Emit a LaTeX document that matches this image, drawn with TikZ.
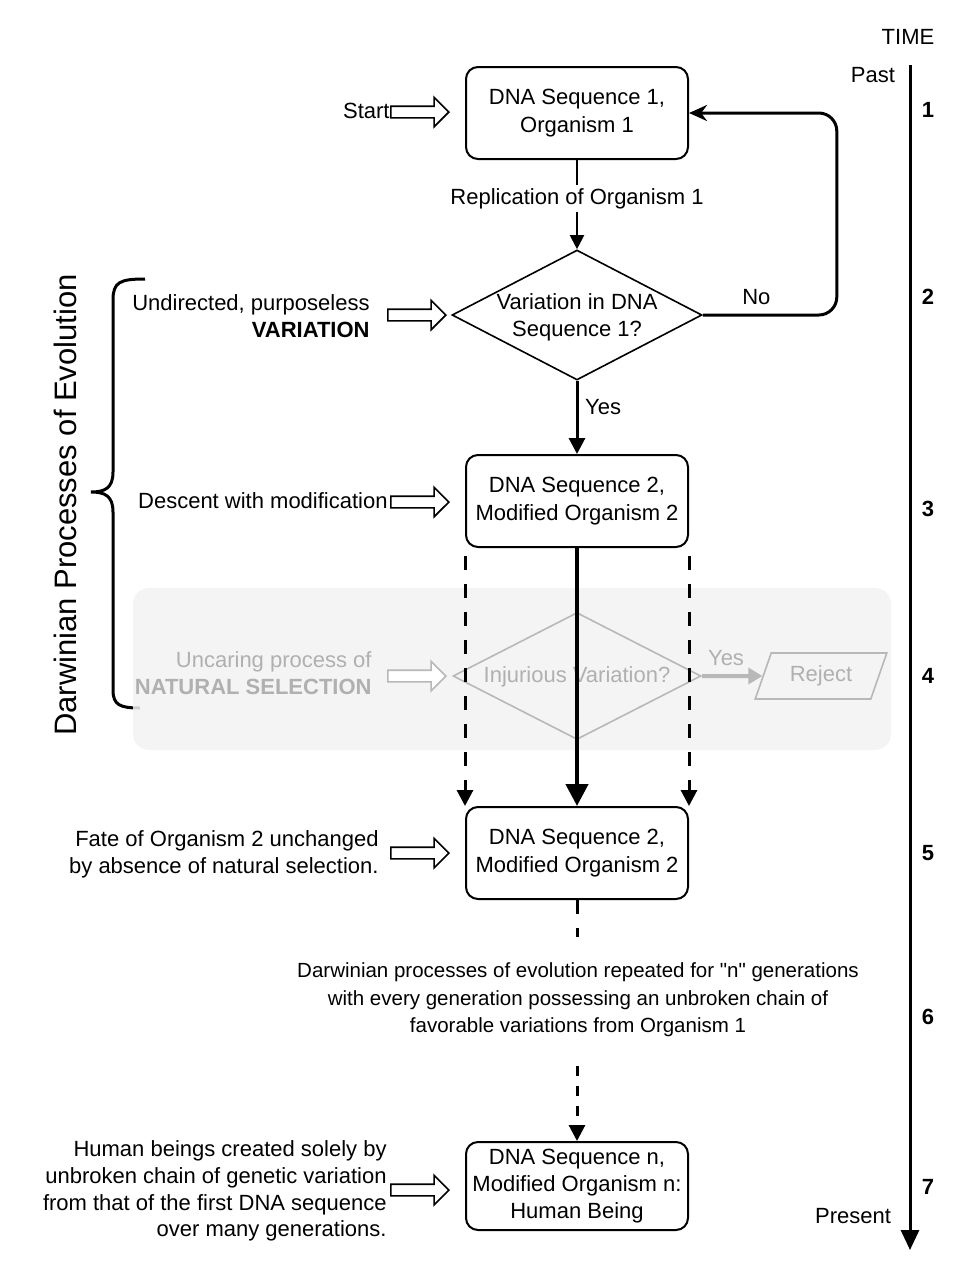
\documentclass[tikz,border=0pt]{standalone}
\usepackage{fontspec}
\setmainfont{Liberation Sans}
\newfontfamily\qfont{Liberation Sans}
\usetikzlibrary{arrows.meta,shapes.geometric,shapes.arrows}
\definecolor{lgray}{HTML}{B8B8B8}
\definecolor{tgray}{HTML}{B0B0B0}
\definecolor{boxgray}{HTML}{F3F3F3}
\begin{document}
\begin{tikzpicture}[x=0.5pt,y=-0.5pt,
  font=\fontsize{11}{13.6}\selectfont,
  box/.style={draw, line width=1pt, rounded corners=6pt, minimum width=111pt, minimum height=46pt, align=center, inner sep=0pt},
  dia/.style={draw, diamond, line width=0.8pt, minimum width=125pt, minimum height=65pt, inner sep=0pt, aspect=1.92},
  harrow/.style={single arrow, draw, line width=0.8pt, minimum height=29pt, inner sep=2.5pt, single arrow head extend=4.5pt, fill=white, anchor=tip},
  side/.style={align=right, anchor=east, inner sep=0pt},
  tarr/.style={-{Triangle[length=7pt,width=7pt]}},
  dsh/.style={line width=1.5pt, dash pattern=on 7pt off 7pt},
  num/.style={font=\fontsize{11}{13}\selectfont\bfseries},
]
\useasboundingbox (0,0) rectangle (967,1286);
\fill[white] (0,0) rectangle (967,1286);

% brace and title
\draw[line width=1.5pt] (145,279) .. controls (120,279) and (113,282) .. (113,300) -- (113,472)
  .. controls (113,488) and (105,492) .. (91,492) .. controls (105,492) and (113,496) .. (113,512)
  -- (113,690) .. controls (113,705) and (120,708) .. (140,708);
\node[rotate=90, font=\fontsize{15.5}{18}\selectfont] (title) at (65,505) {Darwinian Processes of Evolution};

% grey natural selection band
\fill[boxgray, fill opacity=0.85, rounded corners=8pt] (133,588) rectangle (891,750);

% nodes
\node[box] (b1) at (577,113) {DNA Sequence 1,\\Organism 1};
\node[dia] (d1) at (577,315) {};
\node[align=center] (d1t) at (577,317) {Variation in DNA\\Sequence 1?};
\node[box] (b2) at (577,501) {DNA Sequence 2,\\Modified Organism 2};
\node[dia, draw=lgray, minimum width=124pt, minimum height=63.5pt] (d2) at (577,676) {};
\node[text=tgray] (d2t) at (577,677) {Injurious Variation?};
\node[trapezium, trapezium left angle=64, trapezium right angle=116, trapezium stretches, draw=lgray, line width=0.8pt, text=tgray, minimum width=66pt, minimum height=23pt, inner sep=0pt] (rej) at (821,676) {Reject};
\node[box] (b3) at (577,853) {DNA Sequence 2,\\Modified Organism 2};
\node[align=center, font=\fontsize{10.25}{13.8}\selectfont] (rep) at (578,1000) {Darwinian processes of evolution repeated for {\qfont"}n{\qfont"} generations\\with every generation possessing an unbroken chain of\\favorable variations from Organism 1};
\node[box, minimum height=44pt] (b4) at (577,1186) {DNA Sequence n,\\Modified Organism n:\\Human Being};

% side labels
\node[side] (s1) at (390,111) {Start};
\node[side] (s2) at (370,316) {Undirected, purposeless\\\textbf{VARIATION}};
\node[side] (s3) at (388,501) {Descent with modification};
\node[side, text=tgray] (s4) at (372,673) {Uncaring process of\\\textbf{NATURAL SELECTION}};
\node[side] (s5) at (379,854) {Fate of Organism 2 unchanged\\by absence of natural selection.};
\node[side, font=\fontsize{11}{13.3}\selectfont] (s6) at (387,1191) {Human beings created solely by\\unbroken chain of genetic variation\\from that of the first DNA sequence\\over many generations.};

% hollow arrows
\node[harrow] (h1) at (450,112) {};
\node[harrow] (h2) at (447,315) {};
\node[harrow] (h3) at (450,502) {};
\node[harrow, draw=lgray] (h4) at (447,676) {};
\node[harrow] (h5) at (450,853) {};
\node[harrow] (h6) at (450,1190) {};

% connectors
\draw[line width=1pt, tarr] (b1.south) -- node[pos=0.43, fill=white, inner sep=1.5pt] {Replication of Organism 1} (d1.north);
\draw[line width=1.5pt, rounded corners=9pt, -{Stealth[length=9pt,width=8pt]}] (d1.east) -- node[pos=0.4, above=1pt] {No} ++(134,0) |- (b1.east);
\draw[line width=1.5pt, -{Triangle[length=8pt,width=8pt]}] (d1.south) -- node[pos=0.36, right=0pt] {Yes} (b2.north);
\draw[lgray, line width=2pt, -{Triangle[length=7pt,width=8pt]}] (d2.east) -- node[pos=0.4, above=1pt, text=tgray] {Yes} (rej.west);
\draw[line width=2.2pt, -{Triangle[length=11pt,width=11pt]}] (b2.south) -- (b3.north);
\draw[dsh, -{Triangle[length=8pt,width=8pt]}] ([yshift=-4pt]b2.south west) -- (b3.north west);
\draw[dsh, -{Triangle[length=8pt,width=8pt]}] ([yshift=-4pt]b2.south east) -- (b3.north east);
\coordinate (c1) at (577,937);
\coordinate (c2) at (577,1066);
\draw[dsh] (b3.south) -- (c1);
\draw[dsh, dash pattern=on 5pt off 5pt, -{Triangle[length=8pt,width=8pt]}] (c2) -- (b4.north);

% time axis
\coordinate (tA) at (910,65);
\coordinate (tB) at (910,1250);
\draw[line width=1.5pt, -{Triangle[length=10pt,width=9pt]}] (tA) -- (tB);
\node (time) at (908,37) {TIME};
\node (past) at (873,75) {Past};
\node (present) at (853,1216) {Present};
\node[num] (n1) at (928,110) {1};
\node[num] (n2) at (928,297) {2};
\node[num] (n3) at (928,509) {3};
\node[num] (n4) at (928,676) {4};
\node[num] (n5) at (928,853) {5};
\node[num] (n6) at (928,1017) {6};
\node[num] (n7) at (928,1187) {7};
\end{tikzpicture}
\end{document}
